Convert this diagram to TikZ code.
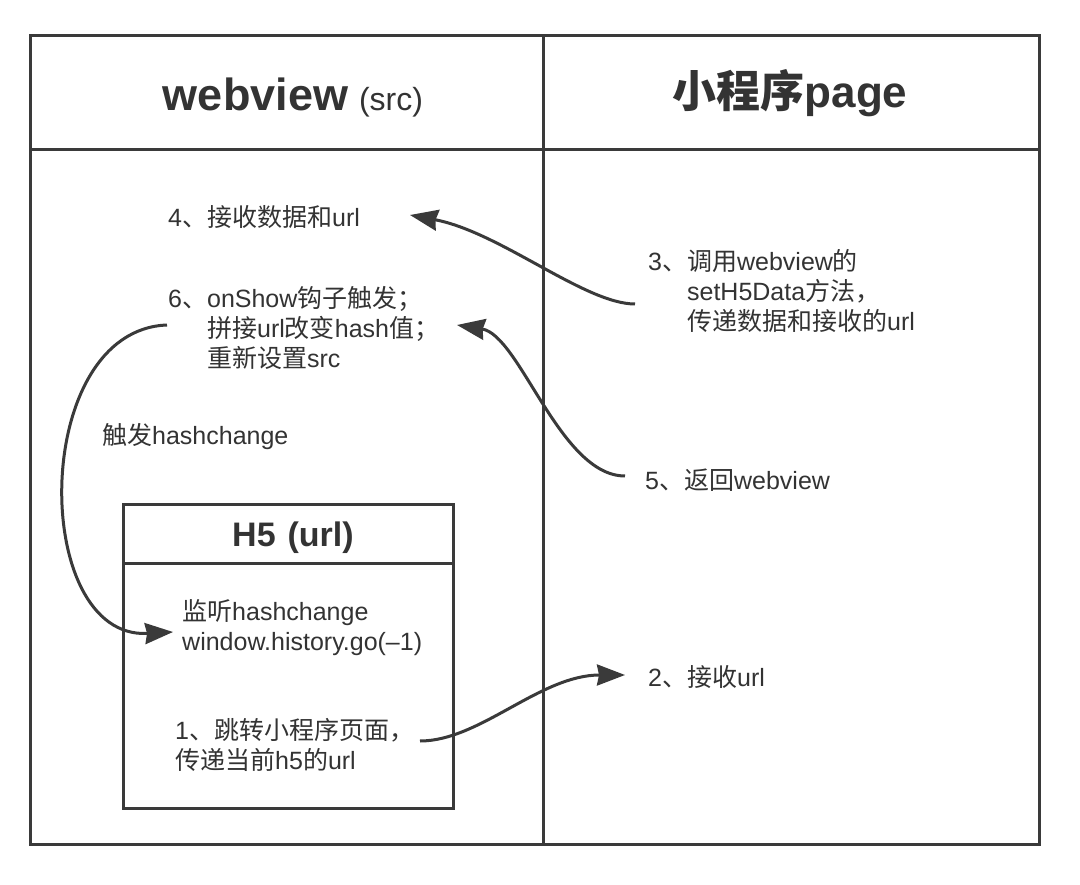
\documentclass[tikz,border=0pt]{standalone}
\usepackage{fontspec}
\setmainfont{Liberation Sans}
\newfontfamily\cjk{Noto Sans CJK SC}
\usetikzlibrary{arrows.meta}
\definecolor{ink}{HTML}{333333}
\definecolor{linec}{HTML}{3A3A3A}
\newcommand\zh[1]{{\cjk #1}}
\begin{document}
\begin{tikzpicture}[x=1pt,y=-1pt,
  frame/.style={draw=linec, line width=3pt},
  body/.style={inner sep=0pt, text=ink, align=left, anchor=west,
    font=\fontsize{25}{30}\selectfont},
  conn/.style={draw=linec, line width=3pt,
    -{Stealth[length=28pt,width=21pt,inset=2pt]}}]
\useasboundingbox (0,0) rectangle (1080,885);
\fill[white] (0,0) rectangle (1080,885);
% frame
\draw[frame] (30,36) rectangle (1039,844);
\draw[frame] (30,150) -- (1039,150);
\draw[frame] (543,36) -- (543,844);
% H5 box
\draw[frame] (123,504) rectangle (453,808);
\draw[frame] (123,563) -- (453,563);
% headers
\node[inner sep=0pt, text=ink, anchor=base] (hweb) at (293,111)
  {{\bfseries\fontsize{45}{50}\selectfont webview}\hspace{11pt}{\fontsize{32}{36}\selectfont (src)}};
\node[inner sep=0pt, text=ink, anchor=base] (hmini) at (790,108)
  {\bfseries\fontsize{44}{50}\selectfont \zh{小程序}page};
\node[inner sep=0pt, text=ink, anchor=base] (hh5) at (293,546)
  {\bfseries\fontsize{34}{40}\selectfont H5\hspace{12pt}(url)};
% body texts
\node[body] (t4) at (168,217) {4\zh{、接收数据和}url};
\node[body] (t6) at (168,328) {6\zh{、}onShow\zh{钩子触发；}\\
  \hphantom{6\zh{、}}\zh{拼接}url\zh{改变}hash\zh{值；}\\
  \hphantom{6\zh{、}}\zh{重新设置}src};
\node[body] (thash) at (102,437) {\zh{触发}hashchange};
\node[body] (t3) at (648,291) {3\zh{、调用}webview\zh{的}\\
  \hphantom{3\zh{、}}setH5Data\zh{方法，}\\
  \hphantom{3\zh{、}}\zh{传递数据和接收的}url};
\node[body] (t5) at (645,480) {5\zh{、返回}webview};
\node[body] (tlisten) at (182,628) {\zh{监听}hashchange\\window.history.go(–1)};
\node[body] (t1) at (175,745) {1\zh{、跳转小程序页面，}\\\zh{传递当前}h5\zh{的}url};
\node[body] (t2) at (648,677) {2\zh{、接收}url};
% connector end points
\coordinate (a3s) at (635,304);
\coordinate (a4e) at (410,215);
\coordinate (a5s) at (625,476);
\coordinate (a6e) at (457,325);
\coordinate (a6s) at (167,325);
\coordinate (ahe) at (173,632);
\coordinate (a1s) at (420,741);
\coordinate (a2e) at (625,675);
% connectors
\draw[conn] (a3s) .. controls (585,304) and (500,232) .. (a4e);
\draw[conn] (a5s) .. controls (560,476) and (520,335) .. (a6e);
\draw[conn] (a6s) .. controls (30,330) and (30,640) .. (ahe);
\draw[conn] (a1s) .. controls (480,741) and (540,675) .. (a2e);
\end{tikzpicture}
\end{document}
